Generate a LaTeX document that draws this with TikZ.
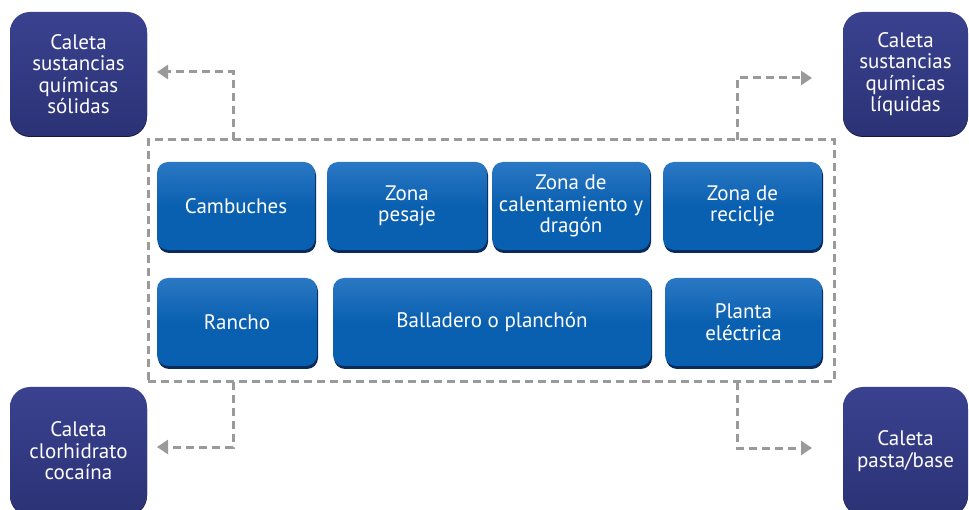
\documentclass[tikz,border=0pt]{standalone}
\usepackage{fontspec}
\setmainfont{PT Sans}
\usetikzlibrary{arrows.meta,shadows}
\definecolor{navy}{HTML}{2B3275}
\definecolor{navytop}{HTML}{3A4290}
\definecolor{navydark}{HTML}{141842}
\definecolor{zone}{HTML}{0A60B0}
\definecolor{zonetop}{HTML}{2A78C4}
\definecolor{zonedark}{HTML}{0A2A5A}
\definecolor{dashgray}{HTML}{9A9A9A}
\tikzset{
  cornerbox/.style={rounded corners=20pt, draw=none, top color=navytop, bottom color=navy,
    text=white, align=center, font=\fontsize{21}{21.5}\selectfont, inner sep=0pt},
  zonebox/.style={rounded corners=11pt, draw=none, top color=zonetop, bottom color=zone, middle color=zone,
    text=white, align=center, font=\fontsize{21}{21.5}\selectfont, inner sep=0pt},
  link/.style={draw=dashgray, line width=3pt, dash pattern=on 8pt off 5pt,
    -{Triangle[length=11pt,width=14pt,fill=dashgray]}},
  frame/.style={draw=dashgray, line width=3pt, dash pattern=on 8pt off 5pt},
}
\begin{document}
\begin{tikzpicture}[x=1pt,y=-1pt]
\useasboundingbox (0,0) rectangle (969,510);
% dashed frame
\node[frame, minimum width=686pt, minimum height=242pt, inner sep=0pt] (frame) at (491,261) {};
% shadows for zone boxes
\foreach \xa/\xb/\ya/\yb in {157/315/160/250, 327/487/160/250, 492/650/160/250, 663/822/160/250, 157/317/276/366, 333/651/276/366, 665/822/276/366}{
  \fill[zonedark, rounded corners=11pt] (\xa+1,\ya+4) rectangle (\xb+1,\yb+3);
}
% zone boxes
\node[zonebox, minimum width=158pt, minimum height=88pt] (camb) at (236,206) {Cambuches};
\node[zonebox, minimum width=160pt, minimum height=88pt] (pesa) at (407,206) {Zona\\pesaje};
\node[zonebox, minimum width=158pt, minimum height=88pt] (cale) at (571,206) {Zona de\\calentamiento y\\dragón};
\node[zonebox, minimum width=159pt, minimum height=88pt] (reci) at (742.5,206) {Zona de\\reciclje};
\node[zonebox, minimum width=160pt, minimum height=88pt] (ranc) at (237,322) {Rancho};
\node[zonebox, minimum width=318pt, minimum height=88pt] (ball) at (492,322) {Balladero o planchón};
\node[zonebox, minimum width=157pt, minimum height=88pt] (plan) at (743.5,322) {Planta\\eléctrica};
% corner boxes shadows
\foreach \xa/\xb/\ya/\yb in {10/147/10/135, 843/968/10/135, 10/147/386/514, 843/968/386/514}{
  \fill[navydark, rounded corners=20pt] (\xa,\ya+3) rectangle (\xb,\yb+2);
}
\node[cornerbox, minimum width=137pt, minimum height=124pt] (tl) at (78.5,74) {Caleta\\sustancias\\químicas\\sólidas};
\node[cornerbox, minimum width=125pt, minimum height=124pt] (tr) at (905.5,74) {Caleta\\sustancias\\químicas\\líquidas};
\node[cornerbox, minimum width=137pt, minimum height=128pt] (bl) at (78.5,451) {Caleta\\clorhidrato\\cocaína};
\node[cornerbox, minimum width=125pt, minimum height=128pt] (br) at (905.5,451) {Caleta\\pasta/base};
% connectors
\coordinate (ftl) at (233,140);
\coordinate (ftr) at (737,140);
\coordinate (fbl) at (233,382);
\coordinate (fbr) at (737,382);
\draw[link] (ftl) |- (157,72);
\draw[link] (ftr) |- (812,78);
\draw[link] (fbl) |- (157,447);
\draw[link] (fbr) |- (812,448);
\end{tikzpicture}
\end{document}
